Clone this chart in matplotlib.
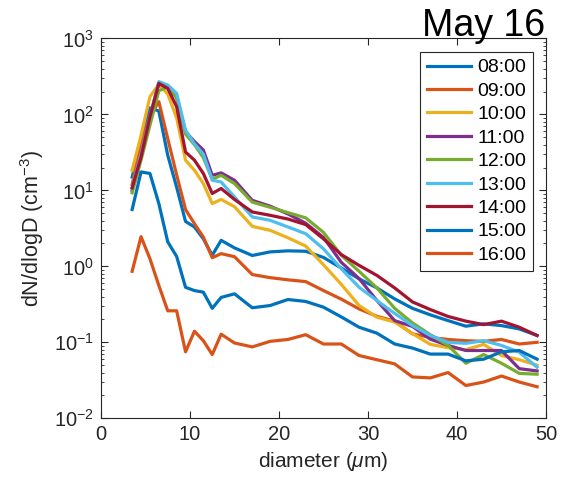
import matplotlib
matplotlib.use('Agg')
import matplotlib.pyplot as plt
from matplotlib.ticker import LogLocator, NullFormatter

plt.rcParams['font.family'] = ['Liberation Sans', 'DejaVu Sans']
plt.rcParams['mathtext.fontset'] = 'custom'
plt.rcParams['mathtext.rm'] = 'Liberation Sans'
plt.rcParams['mathtext.it'] = 'Liberation Sans:italic'

# diameter bins (um)
diameter = [3.5, 4.5, 5.5, 6.5, 7.5, 8.5, 9.5, 10.5, 11.5, 12.5, 13.5, 15, 17, 19, 21,
            23, 25, 27, 29, 31, 33, 35, 37, 39, 41, 43, 45, 47, 49]

hours = ['08:00', '09:00', '10:00', '11:00', '12:00', '13:00', '14:00', '15:00', '16:00']

n_0800 = [15, 42, 122, 111, 29, 11, 3.9, 3.3, 2.3, 1.4, 2.2, 1.75, 1.39, 1.55, 1.6,
          1.58, 1.31, 0.95, 0.685, 0.52, 0.373, 0.28, 0.23, 0.193, 0.163, 0.175, 0.166, 0.150, 0.123]
n_0900 = [12, 40, 95, 147, 48, 16, 5.6, 3.65, 2.43, 1.3, 1.47, 1.34, 0.78, 0.71, 0.665,
          0.63, 0.48, 0.37, 0.275, 0.22, 0.19, 0.129, 0.116, 0.109, 0.105, 0.103, 0.109, 0.095, 0.1]
n_1000 = [18.4, 53, 171, 250, 185, 90, 25, 18.4, 12.3, 6.7, 7.6, 6.1, 3.36, 2.98, 2.38,
          1.85, 1.05, 0.58, 0.305, 0.214, 0.185, 0.13, 0.094, 0.085, 0.08, 0.094, 0.067, 0.059, 0.05]
n_1100 = [10, 28, 90, 260, 240, 170, 59, 44, 34, 15.8, 17, 13.6, 7.4, 6.2, 4.9,
          3.7, 2.4, 1.13, 0.69, 0.355, 0.193, 0.162, 0.11, 0.091, 0.078, 0.078, 0.078, 0.045, 0.042]
n_1200 = [9.3, 25, 72, 205, 230, 165, 55, 40, 27, 14, 15.8, 12.3, 7.0, 6.0, 5.1,
          4.35, 2.8, 1.4, 0.86, 0.52, 0.28, 0.18, 0.126, 0.091, 0.053, 0.069, 0.053, 0.039, 0.038]
n_1300 = [11, 30, 95, 270, 244, 189, 62, 41, 30, 13.6, 12.9, 8.2, 4.47, 4.04, 3.3,
          2.69, 1.7, 0.93, 0.53, 0.355, 0.24, 0.166, 0.123, 0.1, 0.097, 0.105, 0.091, 0.074, 0.047]
n_1400 = [10.8, 27.5, 93, 256, 220, 126, 32, 25, 16.7, 9.1, 10.6, 7.6, 5.2, 4.7, 4.2,
          3.55, 2.3, 1.43, 1.03, 0.76, 0.52, 0.34, 0.27, 0.219, 0.19, 0.171, 0.19, 0.158, 0.123]
n_1500 = [5.6, 17.5, 16.7, 6.7, 2.1, 1.35, 0.53, 0.48, 0.457, 0.28, 0.39, 0.435, 0.285, 0.305, 0.366,
          0.345, 0.29, 0.216, 0.158, 0.132, 0.095, 0.084, 0.070, 0.070, 0.057, 0.060, 0.075, 0.078, 0.060]
n_1600 = [0.86, 2.46, 1.26, 0.56, 0.26, 0.26, 0.075, 0.14, 0.105, 0.069, 0.128, 0.098, 0.087, 0.103, 0.109,
          0.126, 0.095, 0.095, 0.067, 0.059, 0.052, 0.035, 0.034, 0.040, 0.027, 0.030, 0.036, 0.030, 0.026]

series = [n_0800, n_0900, n_1000, n_1100, n_1200, n_1300, n_1400, n_1500, n_1600]
colors = ['#0072BD', '#D95319', '#EDB120', '#7E2F8E', '#77AC30',
          '#4DBEEE', '#A2142F', '#0072BD', '#D95319']

fig = plt.figure(figsize=(5.62, 4.82), dpi=100)
ax = fig.add_axes([0.1797, 0.1322, 0.7918, 0.788])

for vals, c, lab in zip(series, colors, hours):
    ax.semilogy(diameter, vals, color=c, lw=2.3, label=lab)

ax.set_xlim(0, 50)
ax.set_ylim(1e-2, 1e3)
ax.set_xticks([0, 10, 20, 30, 40, 50])
ax.yaxis.set_major_locator(LogLocator(base=10, numticks=10))
ax.yaxis.set_minor_locator(LogLocator(base=10, subs=range(2, 10), numticks=20))
ax.yaxis.set_minor_formatter(NullFormatter())

ax.tick_params(which='both', direction='in', top=True, right=True,
               labelsize=14.5, colors='#262626', pad=5)
ax.tick_params(which='major', length=5, width=0.8)
ax.tick_params(which='minor', length=2.5, width=0.6)
for s in ax.spines.values():
    s.set_color('#262626')
    s.set_linewidth(0.8)

ax.set_xlabel(r'diameter ($\mu$m)', fontsize=15, color='#262626')
ax.set_ylabel(r'dN/dlogD (cm$^{-3}$)', fontsize=15.5, color='#262626', labelpad=6)

leg = ax.legend(loc='upper right', fontsize=14, handlelength=2.3, handletextpad=0.3,
                labelspacing=0.3, borderpad=0.35, borderaxespad=0, fancybox=False,
                framealpha=1, bbox_to_anchor=(0.971, 0.9645))
leg.get_frame().set_edgecolor('#262626')
leg.get_frame().set_linewidth(0.8)

fig.text(0.97, 1 - 36 / 482, 'May 16', ha='right', va='baseline', fontsize=27)

fig.savefig('out.png', dpi=100)
